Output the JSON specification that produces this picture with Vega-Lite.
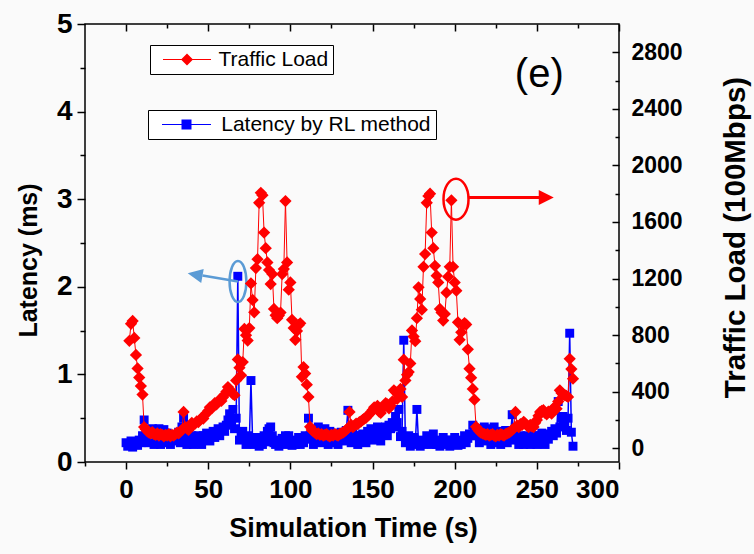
{
  "$schema": "https://vega.github.io/schema/vega-lite/v6.json",
  "width": 534,
  "height": 438,
  "autosize": "none",
  "padding": {"left": 85, "top": 24, "right": 135, "bottom": 92},
  "background": "#fafafa",
  "config": {
    "font": "Liberation Sans",
    "view": {"stroke": "#000", "strokeWidth": 1.5},
    "axis": {"grid": false, "domain": false, "tickColor": "#000", "tickWidth": 1.5, "labelColor": "#000", "titleColor": "#000", "labelFontWeight": "bold", "titleFontWeight": "bold", "labelFont": "Liberation Sans", "titleFont": "Liberation Sans"},
    "legend": {"labelFont": "Liberation Sans", "labelColor": "#000", "labelLimit": 500}
  },
  "datasets": {
    "d": [
      {"t":0,"L":0.22},{"t":1,"L":0.18},{"t":2,"L":0.2,"T":760},{"t":3,"L":0.24,"T":880},{"t":4,"L":0.17,"T":900},{"t":5,"L":0.2,"T":780},{"t":6,"L":0.23,"T":660},{"t":7,"L":0.19,"T":565},{"t":8,"L":0.25,"T":500},{"t":9,"L":0.22,"T":440},
      {"t":10,"L":0.3,"T":380},{"t":11,"L":0.48,"T":150},{"t":12,"L":0.3,"T":135},{"t":13,"L":0.35,"T":120},{"t":14,"L":0.22,"T":110},{"t":15,"L":0.33,"T":105},{"t":16,"L":0.38,"T":115},{"t":17,"L":0.2,"T":100},{"t":18,"L":0.36,"T":95},{"t":19,"L":0.25,"T":105},
      {"t":20,"L":0.38,"T":90},{"t":21,"L":0.2,"T":100},{"t":22,"L":0.34,"T":95},{"t":23,"L":0.37,"T":85},{"t":24,"L":0.22,"T":95},{"t":25,"L":0.33,"T":90},{"t":26,"L":0.3,"T":100},{"t":27,"L":0.2,"T":85},{"t":28,"L":0.31,"T":95},{"t":29,"L":0.24,"T":90},
      {"t":30,"L":0.25,"T":100},{"t":31,"L":0.3,"T":110},{"t":32,"L":0.34,"T":105},{"t":33,"L":0.22,"T":120},{"t":34,"L":0.4,"T":130},{"t":35,"L":0.5,"T":257},{"t":36,"L":0.3,"T":150},{"t":37,"L":0.2,"T":140},{"t":38,"L":0.32,"T":130},{"t":39,"L":0.25,"T":160},
      {"t":40,"L":0.3,"T":180},{"t":41,"L":0.2,"T":165},{"t":42,"L":0.28,"T":175},{"t":43,"L":0.22,"T":190},{"t":44,"L":0.3,"T":185},{"t":45,"L":0.27,"T":200},{"t":46,"L":0.2,"T":215},{"t":47,"L":0.3,"T":210},{"t":48,"L":0.25,"T":235},{"t":49,"L":0.33,"T":250},
      {"t":50,"L":0.3,"T":265},{"t":51,"L":0.24,"T":290},{"t":52,"L":0.32,"T":280},{"t":53,"L":0.35,"T":300},{"t":54,"L":0.28,"T":320},{"t":55,"L":0.34,"T":310},{"t":56,"L":0.38,"T":330},{"t":57,"L":0.3,"T":345},{"t":58,"L":0.36,"T":335},{"t":59,"L":0.4,"T":360},
      {"t":60,"L":0.35,"T":380},{"t":61,"L":0.42,"T":400},{"t":62,"L":0.48,"T":433},{"t":63,"L":0.55,"T":415},{"t":64,"L":0.45,"T":400},{"t":65,"L":0.6,"T":385},{"t":66,"L":0.38,"T":375},{"t":67,"L":0.5,"T":480},{"t":68,"L":2.12,"T":628},{"t":69,"L":0.25,"T":570},
      {"t":70,"L":0.32,"T":516},{"t":71,"L":0.35,"T":610},{"t":72,"L":0.28,"T":844},{"t":73,"L":0.2,"T":800},{"t":74,"L":0.3,"T":762},{"t":75,"L":0.22,"T":850},{"t":76,"L":0.93,"T":1166},{"t":77,"L":0.25,"T":1049},{"t":78,"L":0.2,"T":961},{"t":79,"L":0.28,"T":1274},
      {"t":80,"L":0.22,"T":1337},{"t":81,"L":0.18,"T":1736},{"t":82,"L":0.25,"T":1806},{"t":83,"L":0.2,"T":1790},{"t":84,"L":0.3,"T":1525},{"t":85,"L":0.23,"T":1415},{"t":86,"L":0.35,"T":1314},{"t":87,"L":0.38,"T":1260},{"t":88,"L":0.4,"T":1161},{"t":89,"L":0.3,"T":1232},
      {"t":90,"L":0.22,"T":985},{"t":91,"L":0.2,"T":940},{"t":92,"L":0.25,"T":920},{"t":93,"L":0.18,"T":938},{"t":94,"L":0.22,"T":960},{"t":95,"L":0.27,"T":1232},{"t":96,"L":0.2,"T":1267},{"t":97,"L":0.3,"T":1748},{"t":98,"L":0.24,"T":1314},{"t":99,"L":0.3,"T":1121},
      {"t":100,"L":0.22,"T":1173},{"t":101,"L":0.19,"T":908},{"t":102,"L":0.25,"T":850},{"t":103,"L":0.2,"T":767},{"t":104,"L":0.23,"T":830},{"t":105,"L":0.28,"T":870},{"t":106,"L":0.2,"T":884},{"t":107,"L":0.25,"T":505},{"t":108,"L":0.22,"T":574},{"t":109,"L":0.3,"T":528},
      {"t":110,"L":0.26,"T":450},{"t":111,"L":0.5,"T":363},{"t":112,"L":0.3,"T":152},{"t":113,"L":0.34,"T":130},{"t":114,"L":0.2,"T":120},{"t":115,"L":0.3,"T":110},{"t":116,"L":0.35,"T":100},{"t":117,"L":0.4,"T":105},{"t":118,"L":0.22,"T":95},{"t":119,"L":0.36,"T":100},
      {"t":120,"L":0.25,"T":90},{"t":121,"L":0.38,"T":95},{"t":122,"L":0.33,"T":100},{"t":123,"L":0.2,"T":90},{"t":124,"L":0.35,"T":85},{"t":125,"L":0.3,"T":95},{"t":126,"L":0.22,"T":90},{"t":127,"L":0.33,"T":100},{"t":128,"L":0.3,"T":95},{"t":129,"L":0.2,"T":90},
      {"t":130,"L":0.3,"T":100},{"t":131,"L":0.34,"T":105},{"t":132,"L":0.24,"T":110},{"t":133,"L":0.32,"T":120},{"t":134,"L":0.36,"T":130},{"t":135,"L":0.59,"T":140},{"t":136,"L":0.3,"T":257},{"t":137,"L":0.22,"T":165},{"t":138,"L":0.32,"T":150},{"t":139,"L":0.26,"T":160},
      {"t":140,"L":0.3,"T":175},{"t":141,"L":0.2,"T":170},{"t":142,"L":0.3,"T":185},{"t":143,"L":0.24,"T":190},{"t":144,"L":0.32,"T":200},{"t":145,"L":0.3,"T":210},{"t":146,"L":0.22,"T":215},{"t":147,"L":0.35,"T":230},{"t":148,"L":0.3,"T":240},{"t":149,"L":0.38,"T":255},
      {"t":150,"L":0.33,"T":270},{"t":151,"L":0.25,"T":290},{"t":152,"L":0.36,"T":285},{"t":153,"L":0.4,"T":300},{"t":154,"L":0.3,"T":260},{"t":155,"L":0.24,"T":250},{"t":156,"L":0.38,"T":280},{"t":157,"L":0.35,"T":300},{"t":158,"L":0.4,"T":320},{"t":159,"L":0.3,"T":310},
      {"t":160,"L":0.42,"T":283},{"t":161,"L":0.38,"T":300},{"t":162,"L":0.45,"T":330},{"t":163,"L":0.4,"T":410},{"t":164,"L":0.52,"T":398},{"t":165,"L":0.45,"T":350},{"t":166,"L":0.6,"T":380},{"t":167,"L":0.29,"T":420},{"t":168,"L":0.35,"T":363},{"t":169,"L":1.39,"T":626},
      {"t":170,"L":0.22,"T":480},{"t":171,"L":0.27,"T":520},{"t":172,"L":0.3,"T":539},{"t":173,"L":0.18,"T":600},{"t":174,"L":0.24,"T":833},{"t":175,"L":0.28,"T":790},{"t":176,"L":0.2,"T":757},{"t":177,"L":0.6,"T":920},{"t":178,"L":0.22,"T":1138},{"t":179,"L":0.18,"T":1056},
      {"t":180,"L":0.25,"T":980},{"t":181,"L":0.2,"T":1283},{"t":182,"L":0.23,"T":1373},{"t":183,"L":0.3,"T":1736},{"t":184,"L":0.22,"T":1783},{"t":185,"L":0.27,"T":1800},{"t":186,"L":0.2,"T":1525},{"t":187,"L":0.32,"T":1415},{"t":188,"L":0.25,"T":1290},{"t":189,"L":0.2,"T":1220},
      {"t":190,"L":0.24,"T":1173},{"t":191,"L":0.18,"T":985},{"t":192,"L":0.22,"T":960},{"t":193,"L":0.28,"T":903},{"t":194,"L":0.2,"T":950},{"t":195,"L":0.25,"T":1100},{"t":196,"L":0.22,"T":1213},{"t":197,"L":0.18,"T":1283},{"t":198,"L":0.25,"T":1753},{"t":199,"L":0.2,"T":1283},
      {"t":200,"L":0.28,"T":1173},{"t":201,"L":0.22,"T":1114},{"t":202,"L":0.19,"T":891},{"t":203,"L":0.25,"T":767},{"t":204,"L":0.2,"T":820},{"t":205,"L":0.24,"T":870},{"t":206,"L":0.3,"T":885},{"t":207,"L":0.22,"T":875},{"t":208,"L":0.27,"T":700},{"t":209,"L":0.32,"T":563},
      {"t":210,"L":0.3,"T":499},{"t":211,"L":0.42,"T":420},{"t":212,"L":0.35,"T":344},{"t":213,"L":0.3,"T":152},{"t":214,"L":0.38,"T":135},{"t":215,"L":0.22,"T":120},{"t":216,"L":0.36,"T":110},{"t":217,"L":0.3,"T":105},{"t":218,"L":0.4,"T":100},{"t":219,"L":0.24,"T":95},
      {"t":220,"L":0.3,"T":100},{"t":221,"L":0.38,"T":90},{"t":222,"L":0.2,"T":95},{"t":223,"L":0.36,"T":100},{"t":224,"L":0.4,"T":90},{"t":225,"L":0.22,"T":85},{"t":226,"L":0.3,"T":95},{"t":227,"L":0.35,"T":90},{"t":228,"L":0.2,"T":100},{"t":229,"L":0.33,"T":95},
      {"t":230,"L":0.3,"T":90},{"t":231,"L":0.36,"T":100},{"t":232,"L":0.22,"T":105},{"t":233,"L":0.27,"T":110},{"t":234,"L":0.32,"T":120},{"t":235,"L":0.54,"T":130},{"t":236,"L":0.3,"T":140},{"t":237,"L":0.25,"T":257},{"t":238,"L":0.28,"T":160},{"t":239,"L":0.2,"T":150},
      {"t":240,"L":0.3,"T":170},{"t":241,"L":0.26,"T":165},{"t":242,"L":0.2,"T":187},{"t":243,"L":0.28,"T":175},{"t":244,"L":0.3,"T":160},{"t":245,"L":0.22,"T":150},{"t":246,"L":0.2,"T":165},{"t":247,"L":0.27,"T":155},{"t":248,"L":0.3,"T":150},{"t":249,"L":0.22,"T":180},
      {"t":250,"L":0.2,"T":200},{"t":251,"L":0.3,"T":230},{"t":252,"L":0.27,"T":257},{"t":253,"L":0.33,"T":265},{"t":254,"L":0.22,"T":269},{"t":255,"L":0.2,"T":250},{"t":256,"L":0.3,"T":240},{"t":257,"L":0.26,"T":260},{"t":258,"L":0.32,"T":255},{"t":259,"L":0.35,"T":245},
      {"t":260,"L":0.3,"T":283},{"t":261,"L":0.38,"T":290},{"t":262,"L":0.33,"T":280},{"t":263,"L":0.69,"T":330},{"t":264,"L":0.4,"T":410},{"t":265,"L":0.5,"T":390},{"t":266,"L":0.52,"T":380},{"t":267,"L":0.45,"T":375},{"t":268,"L":0.36,"T":370},{"t":269,"L":0.5,"T":363},
      {"t":270,"L":1.47,"T":633},{"t":271,"L":0.34,"T":560},{"t":272,"L":0.18,"T":492}
    ],
    "blueMark": [{"t": 68.1, "L": 2.06, "t2": 46.5, "L2": 2.13, "th": 37.5, "Lh": 2.154}],
    "redMark": [{"t": 200.8, "L": 3.0, "t1": 208.4, "t2": 253.5, "L2": 3.02, "th": 260.3}],
    "panel": [{"t": 251.5, "L": 4.42, "label": "(e)"}]
  },
  "layer": [
    {
      "layer": [
        {
          "data": {"name": "d"},
          "mark": {"type": "point", "opacity": 0},
          "encoding": {
            "x": {"field": "t", "type": "quantitative", "scale": {"domain": [-25, 300], "nice": false, "zero": false}, "axis": {"orient": "bottom", "values": [-25, 25, 75, 125, 175, 225, 275], "labels": false, "tickSize": 4, "title": null}},
            "y": {"field": "L", "type": "quantitative", "scale": {"domain": [0, 5], "nice": false, "zero": false}, "axis": {"orient": "left", "values": [0.5, 1.5, 2.5, 3.5, 4.5], "labels": false, "tickSize": 5, "title": null}}
          }
        },
        {
          "data": {"name": "d"},
          "mark": {"type": "point", "opacity": 0},
          "encoding": {
            "x": {"field": "t", "type": "quantitative", "scale": {"domain": [-25, 300], "nice": false, "zero": false}, "axis": {"orient": "top", "values": [0, 50, 100, 150, 200, 250, 300], "labels": false, "tickSize": 7, "offset": -7, "title": null}},
            "y": {"field": "L", "type": "quantitative", "scale": {"domain": [0, 5], "nice": false, "zero": false}, "axis": null}
          }
        },
        {
          "data": {"name": "d"},
          "mark": {"type": "point", "opacity": 0},
          "encoding": {
            "x": {"field": "t", "type": "quantitative", "scale": {"domain": [-25, 300], "nice": false, "zero": false}, "axis": {"orient": "top", "values": [25, 75, 125, 175, 225, 275], "labels": false, "tickSize": 4, "offset": -4, "title": null}},
            "y": {"field": "L", "type": "quantitative", "scale": {"domain": [0, 5], "nice": false, "zero": false}, "axis": null}
          }
        },
        {
          "data": {"name": "d"},
          "mark": {"type": "line", "color": "#0000ff", "strokeWidth": 1.5},
          "encoding": {
            "x": {"field": "t", "type": "quantitative", "scale": {"domain": [-25, 300], "nice": false, "zero": false}, "axis": null},
            "y": {"field": "L", "type": "quantitative", "scale": {"domain": [0, 5], "nice": false, "zero": false}, "axis": null}
          }
        },
        {
          "data": {"name": "d"},
          "mark": {"type": "point", "shape": "square", "filled": true, "size": 80, "opacity": 1},
          "encoding": {
            "x": {"field": "t", "type": "quantitative", "scale": {"domain": [-25, 300], "nice": false, "zero": false},
              "axis": {"orient": "bottom", "values": [0, 50, 100, 150, 200, 250, 300], "tickSize": 7, "labelFontSize": 26, "labelPadding": 7, "title": "Simulation Time (s)", "titleFontSize": 27, "titleX": 268, "titleY": 74, "titleBaseline": "alphabetic"}},
            "y": {"field": "L", "type": "quantitative", "scale": {"domain": [0, 5], "nice": false, "zero": false},
              "axis": {"orient": "left", "values": [0, 1, 2, 3, 4, 5], "tickSize": 8, "labelFontSize": 28, "labelPadding": 5, "format": "d", "title": "Latency (ms)", "titleFontSize": 25, "titleAngle": -90, "titleX": -57, "titleY": 236, "titleBaseline": "middle", "titleAlign": "center"}},
            "fill": {"datum": "Latency by RL method", "scale": {"range": ["#0000ff"]},
              "legend": {"orient": "none", "legendX": 63, "legendY": 86, "title": null, "padding": 4, "strokeColor": "#000", "fillColor": "#ffffff", "labelFontSize": 21, "symbolType": "M-4.9,-0.1L-1,-0.1L-1,0.1L-4.9,0.1Z M1,-0.1L4.9,-0.1L4.9,0.1L1,0.1Z M-1,-1L1,-1L1,1L-1,1Z", "symbolSize": 100, "symbolOffset": 24, "labelOffset": 24.2, "symbolStrokeWidth": 0}}
          }
        },
        {
          "data": {"name": "blueMark"},
          "mark": {"type": "rule", "strokeWidth": 2.5, "color": "#5b9bd5"},
          "encoding": {
            "x": {"field": "t", "type": "quantitative", "scale": {"domain": [-25, 300], "nice": false, "zero": false}, "axis": null},
            "y": {"field": "L", "type": "quantitative", "scale": {"domain": [0, 5], "nice": false, "zero": false}, "axis": null},
            "x2": {"field": "t2"},
            "y2": {"field": "L2"}
          }
        },
        {
          "data": {"name": "blueMark"},
          "mark": {"type": "point", "shape": "M0,0L2,-0.95L2,0.95Z", "filled": true, "size": 225, "opacity": 1, "color": "#5b9bd5", "angle": 10},
          "encoding": {
            "x": {"field": "th", "type": "quantitative", "scale": {"domain": [-25, 300], "nice": false, "zero": false}, "axis": null},
            "y": {"field": "Lh", "type": "quantitative", "scale": {"domain": [0, 5], "nice": false, "zero": false}, "axis": null}
          }
        },
        {
          "data": {"name": "blueMark"},
          "mark": {"type": "point", "shape": "M0,-1A0.41,1,0,1,1,0,1A0.41,1,0,1,1,0,-1Z", "filled": false, "size": 1681, "strokeWidth": 2.5, "color": "#5b9bd5", "opacity": 1},
          "encoding": {
            "x": {"field": "t", "type": "quantitative", "scale": {"domain": [-25, 300], "nice": false, "zero": false}, "axis": null},
            "y": {"field": "L", "type": "quantitative", "scale": {"domain": [0, 5], "nice": false, "zero": false}, "axis": null}
          }
        },
        {
          "data": {"name": "redMark"},
          "mark": {"type": "rule", "strokeWidth": 3, "color": "#ff0000"},
          "encoding": {
            "x": {"field": "t1", "type": "quantitative", "scale": {"domain": [-25, 300], "nice": false, "zero": false}, "axis": null},
            "y": {"field": "L2", "type": "quantitative", "scale": {"domain": [0, 5], "nice": false, "zero": false}, "axis": null},
            "x2": {"field": "t2"}
          }
        },
        {
          "data": {"name": "redMark"},
          "mark": {"type": "point", "shape": "M0,0L2,-1L2,1Z", "filled": true, "size": 225, "opacity": 1, "color": "#ff0000", "angle": 180},
          "encoding": {
            "x": {"field": "th", "type": "quantitative", "scale": {"domain": [-25, 300], "nice": false, "zero": false}, "axis": null},
            "y": {"field": "L2", "type": "quantitative", "scale": {"domain": [0, 5], "nice": false, "zero": false}, "axis": null}
          }
        },
        {
          "data": {"name": "redMark"},
          "mark": {"type": "point", "shape": "M0,-1A0.61,1,0,1,1,0,1A0.61,1,0,1,1,0,-1Z", "filled": false, "size": 1681, "strokeWidth": 2.5, "color": "#ff0000", "opacity": 1},
          "encoding": {
            "x": {"field": "t", "type": "quantitative", "scale": {"domain": [-25, 300], "nice": false, "zero": false}, "axis": null},
            "y": {"field": "L", "type": "quantitative", "scale": {"domain": [0, 5], "nice": false, "zero": false}, "axis": null}
          }
        },
        {
          "data": {"name": "panel"},
          "mark": {"type": "text", "fontSize": 40, "font": "Liberation Sans", "color": "#000", "align": "center", "baseline": "middle"},
          "encoding": {
            "x": {"field": "t", "type": "quantitative", "scale": {"domain": [-25, 300], "nice": false, "zero": false}, "axis": null},
            "y": {"field": "L", "type": "quantitative", "scale": {"domain": [0, 5], "nice": false, "zero": false}, "axis": null},
            "text": {"field": "label"}
          }
        }
      ],
      "resolve": {"axis": {"x": "independent", "y": "independent"}}
    },
    {
      "layer": [
        {
          "data": {"name": "d"},
          "mark": {"type": "point", "opacity": 0},
          "encoding": {
            "x": {"field": "t", "type": "quantitative", "scale": {"domain": [-25, 300], "nice": false, "zero": false}, "axis": null},
            "y": {"field": "T", "type": "quantitative", "scale": {"domain": [-97, 3000], "nice": false, "zero": false}, "axis": {"orient": "right", "values": [0, 400, 800, 1200, 1600, 2000, 2400, 2800], "labels": false, "tickSize": 7, "offset": -7, "title": null}}
          }
        },
        {
          "data": {"name": "d"},
          "mark": {"type": "point", "opacity": 0},
          "encoding": {
            "x": {"field": "t", "type": "quantitative", "scale": {"domain": [-25, 300], "nice": false, "zero": false}, "axis": null},
            "y": {"field": "T", "type": "quantitative", "scale": {"domain": [-97, 3000], "nice": false, "zero": false}, "axis": {"orient": "right", "values": [200, 600, 1000, 1400, 1800, 2200, 2600], "labels": false, "tickSize": 4, "offset": -4, "title": null}}
          }
        },
        {
          "data": {"name": "d"},
          "mark": {"type": "line", "color": "#ff0000", "strokeWidth": 1},
          "encoding": {
            "x": {"field": "t", "type": "quantitative", "scale": {"domain": [-25, 300], "nice": false, "zero": false}, "axis": null},
            "y": {"field": "T", "type": "quantitative", "scale": {"domain": [-97, 3000], "nice": false, "zero": false}, "axis": null}
          }
        },
        {
          "data": {"name": "d"},
          "mark": {"type": "point", "shape": "diamond", "filled": true, "size": 150, "opacity": 1},
          "encoding": {
            "x": {"field": "t", "type": "quantitative", "scale": {"domain": [-25, 300], "nice": false, "zero": false}, "axis": null},
            "y": {"field": "T", "type": "quantitative", "scale": {"domain": [-97, 3000], "nice": false, "zero": false},
              "axis": {"orient": "right", "values": [0, 400, 800, 1200, 1600, 2000, 2400, 2800], "ticks": false, "format": "d", "labelPadding": 12, "labelFontSize": 23, "title": "Traffic Load (100Mbps)", "titleFontSize": 29.5, "titleAngle": -90, "titleX": 116, "titleY": 213, "titleBaseline": "middle", "titleAlign": "center"}},
            "color": {"datum": "Traffic Load", "scale": {"range": ["#ff0000"]},
              "legend": {"orient": "none", "legendX": 65, "legendY": 21, "title": null, "padding": 4, "strokeColor": "#000", "fillColor": "#ffffff", "labelFontSize": 21, "symbolType": "M-4,-0.09L-0.9,-0.09L-0.9,0.09L-4,0.09Z M0.9,-0.09L4,-0.09L4,0.09L0.9,0.09Z M0,-1L1,0L0,1L-1,0Z", "symbolSize": 144, "symbolOffset": 22.5, "labelOffset": 21, "symbolStrokeWidth": 0}}
          }
        }
      ],
      "resolve": {"axis": {"y": "independent"}}
    }
  ],
  "resolve": {"scale": {"y": "independent"}, "axis": {"x": "independent", "y": "independent"}}
}
